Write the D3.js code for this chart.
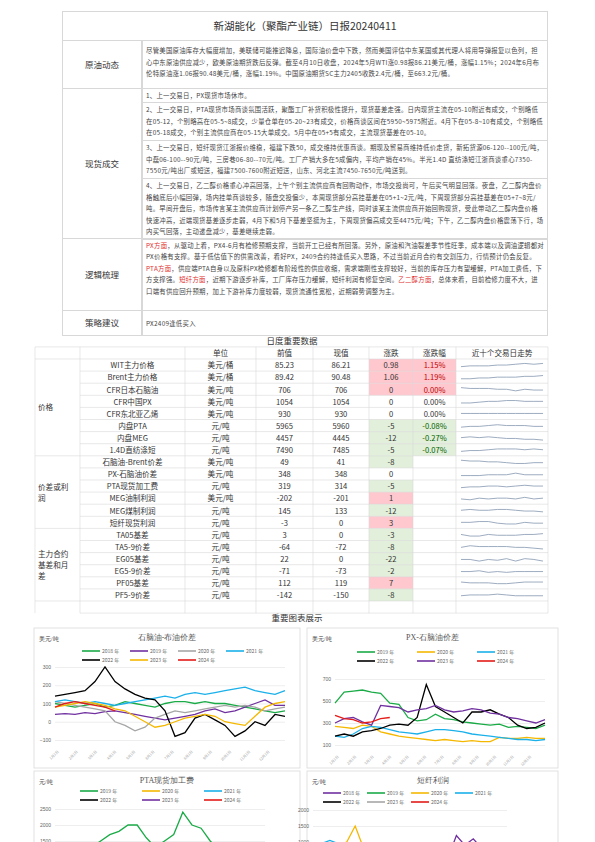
<!DOCTYPE html>
<html><head><meta charset="utf-8">
<script src="https://cdn.jsdelivr.net/npm/d3@7"></script>
<style>
body{margin:0;background:#fff;font-family:"Noto Sans CJK SC","Noto Sans",sans-serif;color:#333}
#page{position:relative;width:595px;height:842px;overflow:hidden}
.cell{position:absolute;box-sizing:border-box;border:1px solid #d8d8d8;font-size:6.4px;letter-spacing:0.25px;line-height:11.6px;padding:1px 3px;color:#444;overflow:hidden}
.lab{display:flex;align-items:center;justify-content:center;font-size:8.5px;letter-spacing:0;color:#333}
.red{color:#e03030}
svg{position:absolute;left:0;top:0}
</style></head><body><div id="page"></div>
<script>
// ---- text blocks ----
const title = "新湖能化（聚酯产业链）日报20240411";
const crudeText = "尽管美国原油库存大幅度增加，美联储可能推迟降息，国际油价盘中下跌，然而美国评估中东某国或其代理人将用导弹报复以色列，担心中东原油供应减少，欧美原油期货跌后反弹。截至4月10日收盘，2024年5月WTI涨0.98报86.21美元/桶，涨幅1.15%；2024年6月布伦特原油涨1.06报90.48美元/桶，涨幅1.19%。中国原油期货SC主力2405收跌2.4元/桶，至663.2元/桶。";
const spotText = [
  "1、上一交易日，PX现货市场休市。",
  "2、上一交易日，PTA现货市场商谈氛围活跃，聚酯工厂补货积极性提升，现货基差走强。日内现货主流在05-10附近有成交，个别略低在05-12，个别略高在05-5~8成交，少量仓单在05-20~23有成交，价格商谈区间在5950~5975附近。4月下在05-8~10有成交，个别略低在05-18成交，个别主流供应商在05-15大单成交。5月中在05+5有成交，主流现货基差在05-10。",
  "3、上一交易日，短纤现货江浙报价维稳，福建下跌50，成交维持优惠商谈。期现及贸易商维持低价走货，新拓货源06-120--100元/吨，中磊06-100--90元/吨，三房巷06-80--70元/吨。工厂产销大多在5成偏内，平均产销在45%。半光1.4D 直纺涤短江浙商谈重心7350-7550元/吨出厂或短送，福建7500-7600附近短送，山东、河北主流7450-7650元/吨送到。",
  "4、上一交易日，乙二醇价格重心冲高回落，上午个别主流供应商有回购动作，市场交投尚可，午后买气明显回落。夜盘，乙二醇内盘价格触底后小幅回弹，场内挂单商谈较多，随盘交投偏少，本周现货部分高挂基差在05+1~2元/吨，下周现货部分高挂基差在05+7~8元/吨。早间开盘后，市场传言某主流供应商计划停产另一条乙二醇生产线，同时该某主流供应商开始回购现货，受此带动乙二醇内盘价格快速冲高，近端现货基差逐步走弱，4月下和5月下基差坚挺为主，下周现货偏高成交至4475元/吨；下午，乙二醇内盘价格震荡下行，场内买气回落，主动递盘减少，基差继续走弱。"
];
const logicHtml = "<span class='red'>PX方面</span>，从驱动上看，PX4-6月有检修预期支撑，当前开工已经有所回落。另外，原油和汽油裂差季节性旺季，成本端以及调油逻辑都对PX价格有支撑。基于低估值下的供需改善，看好PX，2409合约持逢低买入思路，不过当前近月合约有交割压力，行情预计仍会反复。<span class='red'>PTA方面</span>，供应端PTA自身以及原料PX检修都有阶段性的供应收缩，需求端刚性支撑较好，当前的库存压力有望缓解，PTA加工费低，下方支撑强。<span class='red'>短纤方面</span>，近期下游逐步补库，工厂库存压力缓解，短纤利润有修复空间。<span class='red'>乙二醇方面</span>，总体来看，目前检修力度不大，进口端有供应回升预期，加上下游补库力度较弱，现货流通性宽松，近期弱势调整为主。";
const strategyText = "PX2409逢低买入";

// ---- daily data table ----
const groups = [["价格", 8], ["价差或利润", 6], ["主力合约基差和月差", 6]];
const names = ["WIT主力价格","Brent主力价格","CFR日本石脑油","CFR中国PX","CFR东北亚乙烯","内盘PTA","内盘MEG","1.4D直纺涤短",
  "石脑油-Brent价差","PX-石脑油价差","PTA现货加工费","MEG油制利润","MEG煤制利润","短纤现货利润",
  "TA05基差","TA5-9价差","EG05基差","EG5-9价差","PF05基差","PF5-9价差"];
const units = ["美元/桶","美元/桶","美元/吨","美元/吨","美元/吨","元/吨","元/吨","元/吨",
  "美元/吨","美元/吨","元/吨","美元/吨","元/吨","元/吨","元/吨","元/吨","元/吨","元/吨","元/吨","元/吨"];
const prevVals = ["85.23","89.42","706","1054","930","5965","4457","7490","49","348","319","-202","145","-3","3","-64","22","-71","112","-142"];
const currVals = ["86.21","90.48","706","1054","930","5960","4445","7485","41","348","314","-201","133","0","0","-72","0","-73","119","-150"];
const changes = [0.98,1.06,0,0,0,-5,-12,-5,-8,0,-5,1,-12,3,-3,-8,-22,-2,7,-8];
const changeLabels = ["0.98","1.06","0","0","0","-5","-12","-5","-8","0","-5","1","-12","3","-3","-8","-22","-2","7","-8"];
const pctLabels = ["1.15%","1.19%","0.00%","0.00%","0.00%","-0.08%","-0.27%","-0.07%","","","","","","","","","","","",""];
const sparks = [
  [3,4,4,4,5,5,6,7,6,7],[3,3,4,4,5,5,5,6,6,7],[7,6,6,6,5,5,3,5,4,4],[3,3,4,5,5,6,6,5,5,5],[5,5,5,5,5,5,5,5,5,5],
  [3,4,4,5,6,5,5,5,4,4],[5,6,5,6,5,4,4,3,3,2],[3,4,4,5,6,6,6,5,6,5],[7,6,6,5,5,4,3,3,4,4],[3,3,3,4,4,4,6,4,4,4],
  [3,4,4,5,5,4,5,6,5,5],[4,3,5,4,5,5,4,6,4,5],[5,6,5,5,6,6,5,4,4,3],[5,5,6,6,4,3,3,5,4,4],[5,3,3,5,4,4,4,5,5,6],
  [4,6,5,5,5,5,4,4,3,2],[4,4,2,4,3,5,2,5,4,2],[4,4,5,3,4,3,4,4,4,4],[6,5,5,5,4,4,5,6,6,6],[4,5,5,5,6,5,4,4,4,4]
];

// ---- chart data (biweekly readings) ----
const colorsA = {"2018年":"#1aab47","2019年":"#7030a0","2020年":"#a6a6a6","2021年":"#1ab0ea","2022年":"#000000","2023年":"#f5b800","2024年":"#e41b17"};
const colorsB = {"2019年":"#1aab47","2020年":"#f5b800","2021年":"#1ab0ea","2022年":"#000000","2023年":"#7030a0","2024年":"#e41b17"};
const colorsC = {"2018年":"#7030a0","2019年":"#1aab47","2020年":"#f5b800","2021年":"#1ab0ea","2022年":"#000000","2023年":"#a6a6a6","2024年":"#e41b17"};
const naphthaBrent = {
  "2018年":[100,90,80,90,100,80,90,110,100,90,80,100,110,110,100,110,100,100,90,80,70,60,50,60],
  "2019年":[40,45,40,50,45,55,60,50,40,30,20,10,20,30,40,60,70,50,60,80,100,120,90,90],
  "2020年":[110,100,90,80,70,60,0,-20,-50,-30,20,40,60,50,60,70,80,90,80,90,80,60,70,80],
  "2021年":[110,120,110,100,110,100,90,100,110,120,130,140,130,150,160,150,160,170,180,190,170,160,150,170],
  "2022年":[140,150,160,170,220,300,220,180,150,130,120,60,-80,-60,20,40,10,-20,-80,-50,0,-20,40,30],
  "2023年":[80,90,100,110,100,90,70,60,30,0,-30,-20,0,20,30,40,30,0,-10,-20,30,80,100,110],
  "2024年":[80,100,110,100,90,80,60]
};
const pxNaphtha = {
  "2019年":[480,580,590,600,580,570,480,470,350,320,330,380,340,330,310,300,290,280,290,260,270,260,250,280],
  "2020年":[270,260,250,280,270,220,200,180,170,160,150,140,150,140,130,140,130,130,170,160,160,170,160,160],
  "2021年":[180,170,200,250,270,260,240,220,210,200,220,240,240,230,220,200,190,180,170,160,150,150,140,150],
  "2022年":[180,200,180,220,230,250,280,290,280,350,650,450,400,350,300,400,400,420,380,350,280,250,260,300],
  "2023年":[300,340,350,310,280,460,450,440,400,420,430,460,420,400,410,430,420,390,380,350,340,320,300,330],
  "2024年":[370,340,330,300,310,340,350]
};
const ptaFee = {
  "2019年":[900,1000,1100,1200,1300,1500,1700,1800,2000,2000,1600,1300,1500,1700,2400,2000,1900,1500,1200,1000,900,800,900,800],
  "2020年":[800,700,600,700,900,1000,800,600,500,600,500,400,500,600,500,400,500,400,300,400,300,400,500,500],
  "2021年":[500,400,500,600,700,500,400,500,700,800,900,1100,700,600,500,500,600,700,600,500,600,700,600,500],
  "2022年":[600,700,500,600,700,900,800,1200,1000,800,500,400,300,400,500,600,700,900,800,700,500,400,500,600],
  "2023年":[400,500,600,500,400,500,600,500,400,300,400,500,300,200,300,400,300,200,300,400,300,300,400,300],
  "2024年":[300,400,500,400,300,350,320]
};
const psfProfit = {
  "2018年":[400,500,600,700,800,600,500,700,900,800,700,600,500,400,300,400,500,1200,900,1100,800,500,400,400],
  "2019年":[300,400,500,400,300,200,300,200,100,200,300,200,100,200,300,200,100,0,100,200,100,0,100,0],
  "2020年":[100,300,700,900,1000,1500,800,400,200,100,0,-100,100,200,300,200,100,0,-100,0,100,0,-100,0],
  "2021年":[900,950,1050,950,800,600,500,400,300,200,100,200,300,200,100,0,100,200,100,0,-100,0,100,0],
  "2022年":[200,300,200,100,0,-100,-200,-300,-200,-100,0,-100,-200,-300,-200,-100,0,100,0,-100,0,100,0,-100],
  "2023年":[0,100,0,-100,0,100,200,100,0,-100,0,100,0,-100,-200,-100,0,100,0,-100,0,100,0,0],
  "2024年":[0,100,0,-100,0,100,0]
};
const monthTicks = ["1月1日","2月1日","3月1日","4月1日","5月1日","6月1日","7月1日","8月1日","9月1日","10月1日","11月1日","12月1日"];

// ---- layout of text tables (HTML cells) ----
const page = d3.select("#page");
function cell(x, y, w, h, cls) {
  return page.append("div").attr("class", "cell " + (cls || ""))
    .style("left", x + "px").style("top", y + "px").style("width", w + "px").style("height", h + "px");
}
cell(62, 11, 486, 30, "lab").style("font-size", "10.5px").text(title);
const L = 62, C = 142, R = 548;
cell(L, 40, C - L, 49, "lab").text("原油动态");
cell(C, 40, R - C, 49).style("padding-top", "4px").text(crudeText);
cell(L, 88, C - L, 151, "lab").text("现货成交");
const spotY = [88, 102, 140, 178, 239];
spotText.forEach((t, i) => cell(C, spotY[i], R - C, spotY[i + 1] - spotY[i] + 1).text(t));
cell(L, 238, C - L, 73, "lab").text("逻辑梳理");
cell(C, 238, R - C, 73).style("line-height", "11.4px").html(logicHtml);
cell(L, 310, C - L, 26, "lab").text("策略建议");
cell(C, 310, R - C, 26).style("line-height", "24px").text(strategyText);

// ---- SVG for the data table and charts ----
const svg = page.append("svg").attr("width", 595).attr("height", 842);
const cols = [35, 80, 185, 256, 313, 369, 413, 456, 548];
const rowH = 12.1, top0 = 359;
const rowY = d3.scaleLinear().domain([0, 1]).range([top0, top0 + rowH]);
const tbl = svg.append("g").style("font-size", "7.6px").attr("fill", "#333");
tbl.append("text").attr("x", 292).attr("y", 344).attr("text-anchor", "middle").style("font-size", "8.5px").text("日度重要数据");
const headers = ["", "", "单位", "前值", "现值", "涨跌", "涨跌幅", "近十个交易日走势"];
headers.forEach((h, i) => tbl.append("text").attr("x", (cols[i] + cols[i + 1]) / 2).attr("y", 356)
  .attr("text-anchor", "middle").text(h));
names.forEach((n, i) => {
  const y = rowY(i);
  const c = changes[i];
  const bg = c > 0 ? "#ffc7ce" : (c < 0 ? "#e2efda" : (i < 3 ? "#ffc7ce" : null));
  if (bg) {
    tbl.append("rect").attr("x", cols[5]).attr("y", y).attr("width", cols[6] - cols[5]).attr("height", rowH).attr("fill", bg);
    if (pctLabels[i]) tbl.append("rect").attr("x", cols[6]).attr("y", y).attr("width", cols[7] - cols[6]).attr("height", rowH).attr("fill", bg);
  }
});
const grid = tbl.append("g").attr("stroke", "#d9d9d9").attr("stroke-width", 0.6);
d3.range(-1, names.length + 2).forEach(i => {
  grid.append("line").attr("x1", cols[1]).attr("x2", cols[8]).attr("y1", rowY(i)).attr("y2", rowY(i));
});
cols.forEach(x => grid.append("line").attr("x1", x).attr("x2", x).attr("y1", top0 - rowH).attr("y2", rowY(names.length + 1)));
let gStart = 0;
groups.forEach(([g, n]) => {
  grid.append("line").attr("x1", cols[0]).attr("x2", cols[1]).attr("y1", rowY(gStart)).attr("y2", rowY(gStart));
  const mid = (rowY(gStart) + rowY(gStart + n)) / 2;
  const lines = g.length > 4 ? (g.length > 6 ? ["主力合约", "基差和月", "差"] : ["价差或利", "润"]) : [g];
  lines.forEach((t, k) => tbl.append("text").attr("x", 38).attr("y", mid + (k - (lines.length - 1) / 2) * 11 + 3).text(t));
  gStart += n;
});
grid.append("line").attr("x1", cols[0]).attr("x2", cols[1]).attr("y1", rowY(gStart)).attr("y2", rowY(gStart));
grid.append("line").attr("x1", cols[0]).attr("x2", cols[1]).attr("y1", top0 - rowH).attr("y2", top0 - rowH);
names.forEach((n, i) => {
  const y = rowY(i) + 9.3;
  const vals = [n, units[i], prevVals[i], currVals[i], changeLabels[i], pctLabels[i]];
  vals.forEach((v, k) => {
    const t = tbl.append("text").attr("x", (cols[k + 1] + cols[k + 2]) / 2).attr("y", y).attr("text-anchor", "middle").text(v);
    if (k === 5 && (changes[i] > 0 || i < 3)) t.attr("fill", "#c00000");
    if (k === 5 && changes[i] < 0) t.attr("fill", "#006100");
  });
  const sx = d3.scaleLinear().domain([0, 9]).range([cols[7] + 5, cols[8] - 5]);
  const sy = d3.scaleLinear().domain([0, 10]).range([rowY(i) + rowH - 2, rowY(i) + 2]);
  tbl.append("path").datum(sparks[i]).attr("fill", "none").attr("stroke", "#8497b0").attr("stroke-width", 0.8)
    .attr("d", d3.line().x((d, j) => sx(j)).y(d => sy(d)));
});
svg.append("text").attr("x", 297).attr("y", 621).attr("text-anchor", "middle").style("font-size", "8.5px").attr("fill", "#333").text("重要图表展示");

// ---- charts ----
function chart(o) {
  const g = svg.append("g");
  g.append("rect").attr("x", o.box[0]).attr("y", o.box[1]).attr("width", o.box[2]).attr("height", o.box[3])
    .attr("fill", "#fff").attr("stroke", "#d9d9d9").attr("stroke-width", 0.8);
  g.append("text").attr("x", o.box[0] + o.box[2] / 2).attr("y", o.box[1] + 12).attr("text-anchor", "middle")
    .style("font-size", "8px").style("font-family", "serif").attr("fill", "#555").text(o.title);
  g.append("text").attr("x", o.box[0] + 5).attr("y", o.box[1] + 13).style("font-size", "5.5px").style("font-family", "serif").attr("fill", "#333").text(o.unit);
  const x = d3.scaleLinear().domain([0, 23]).range(o.xr);
  const y = d3.scaleLinear().domain(o.yd).range(o.yr);
  const ax = g.append("g").attr("transform", `translate(${o.xr[0]},0)`)
    .call(d3.axisLeft(y).tickValues(o.ticks).tickFormat(d3.format("d")).tickSize(-(o.xr[1] - o.xr[0])));
  ax.select(".domain").remove();
  ax.selectAll("line").attr("stroke", "#e3e3e3").attr("stroke-width", 0.6);
  ax.selectAll("text").attr("fill", "#666").style("font-size", "5px").attr("x", -4);
  const clipId = "c" + o.box[0] + o.box[1];
  g.append("clipPath").attr("id", clipId).append("rect").attr("x", o.box[0]).attr("y", o.box[1] + 30).attr("width", o.box[2]).attr("height", o.box[3]);
  const line = d3.line().x((d, i) => x(i)).y(d => y(d));
  const ser = Object.keys(o.data);
  ser.forEach(k => g.append("path").datum(o.data[k]).attr("clip-path", `url(#${clipId})`).attr("fill", "none")
    .attr("stroke", o.colors[k]).attr("stroke-width", 1.3).attr("d", line));
  ser.forEach((k, i) => {
    const lx = o.leg[0] + (i % o.perRow) * o.legStep, ly = o.leg[1] + Math.floor(i / o.perRow) * 9;
    g.append("line").attr("x1", lx).attr("x2", lx + 18).attr("y1", ly).attr("y2", ly).attr("stroke", o.colors[k]).attr("stroke-width", 1.6);
    g.append("text").attr("x", lx + 20).attr("y", ly + 2).style("font-size", "5px").attr("fill", "#666").text(k.replace("年", " 年"));
  });
  if (o.months) {
    const mx = d3.scaleBand().domain(monthTicks).range(o.xr);
    monthTicks.forEach(m => g.append("text").attr("transform", `translate(${mx(m) + 4},${o.yr[0] + 12}) rotate(-45)`)
      .attr("text-anchor", "end").style("font-size", "3.6px").attr("fill", "#999").text(m));
  }
}
chart({box: [34, 628, 266, 140], title: "石脑油-布油价差", unit: "美元/吨", data: naphthaBrent, colors: colorsA,
  xr: [55, 285], yd: [-100, 300], yr: [740, 667], ticks: [-100, 0, 100, 200, 300], leg: [82, 651], perRow: 4, legStep: 48, months: true});
chart({box: [307, 628, 251, 140], title: "PX-石脑油价差", unit: "美元/吨", data: pxNaphtha, colors: colorsB,
  xr: [335, 545], yd: [100, 700], yr: [745, 679], ticks: [100, 300, 500, 700], leg: [357, 652], perRow: 3, legStep: 60, months: true});
chart({box: [34, 771, 266, 120], title: "PTA现货加工费", unit: "元/吨", data: ptaFee, colors: colorsB,
  xr: [55, 265], yd: [1500, 2500], yr: [841, 809], ticks: [1500, 2000, 2500], leg: [80, 791], perRow: 3, legStep: 62});
chart({box: [307, 771, 251, 120], title: "短纤利润", unit: "元/吨", data: psfProfit, colors: colorsC,
  xr: [313, 507], yd: [1500, 2000], yr: [826, 810], ticks: [1000, 1500, 2000], leg: [323, 793], perRow: 4, legStep: 44});
</script></body></html>
